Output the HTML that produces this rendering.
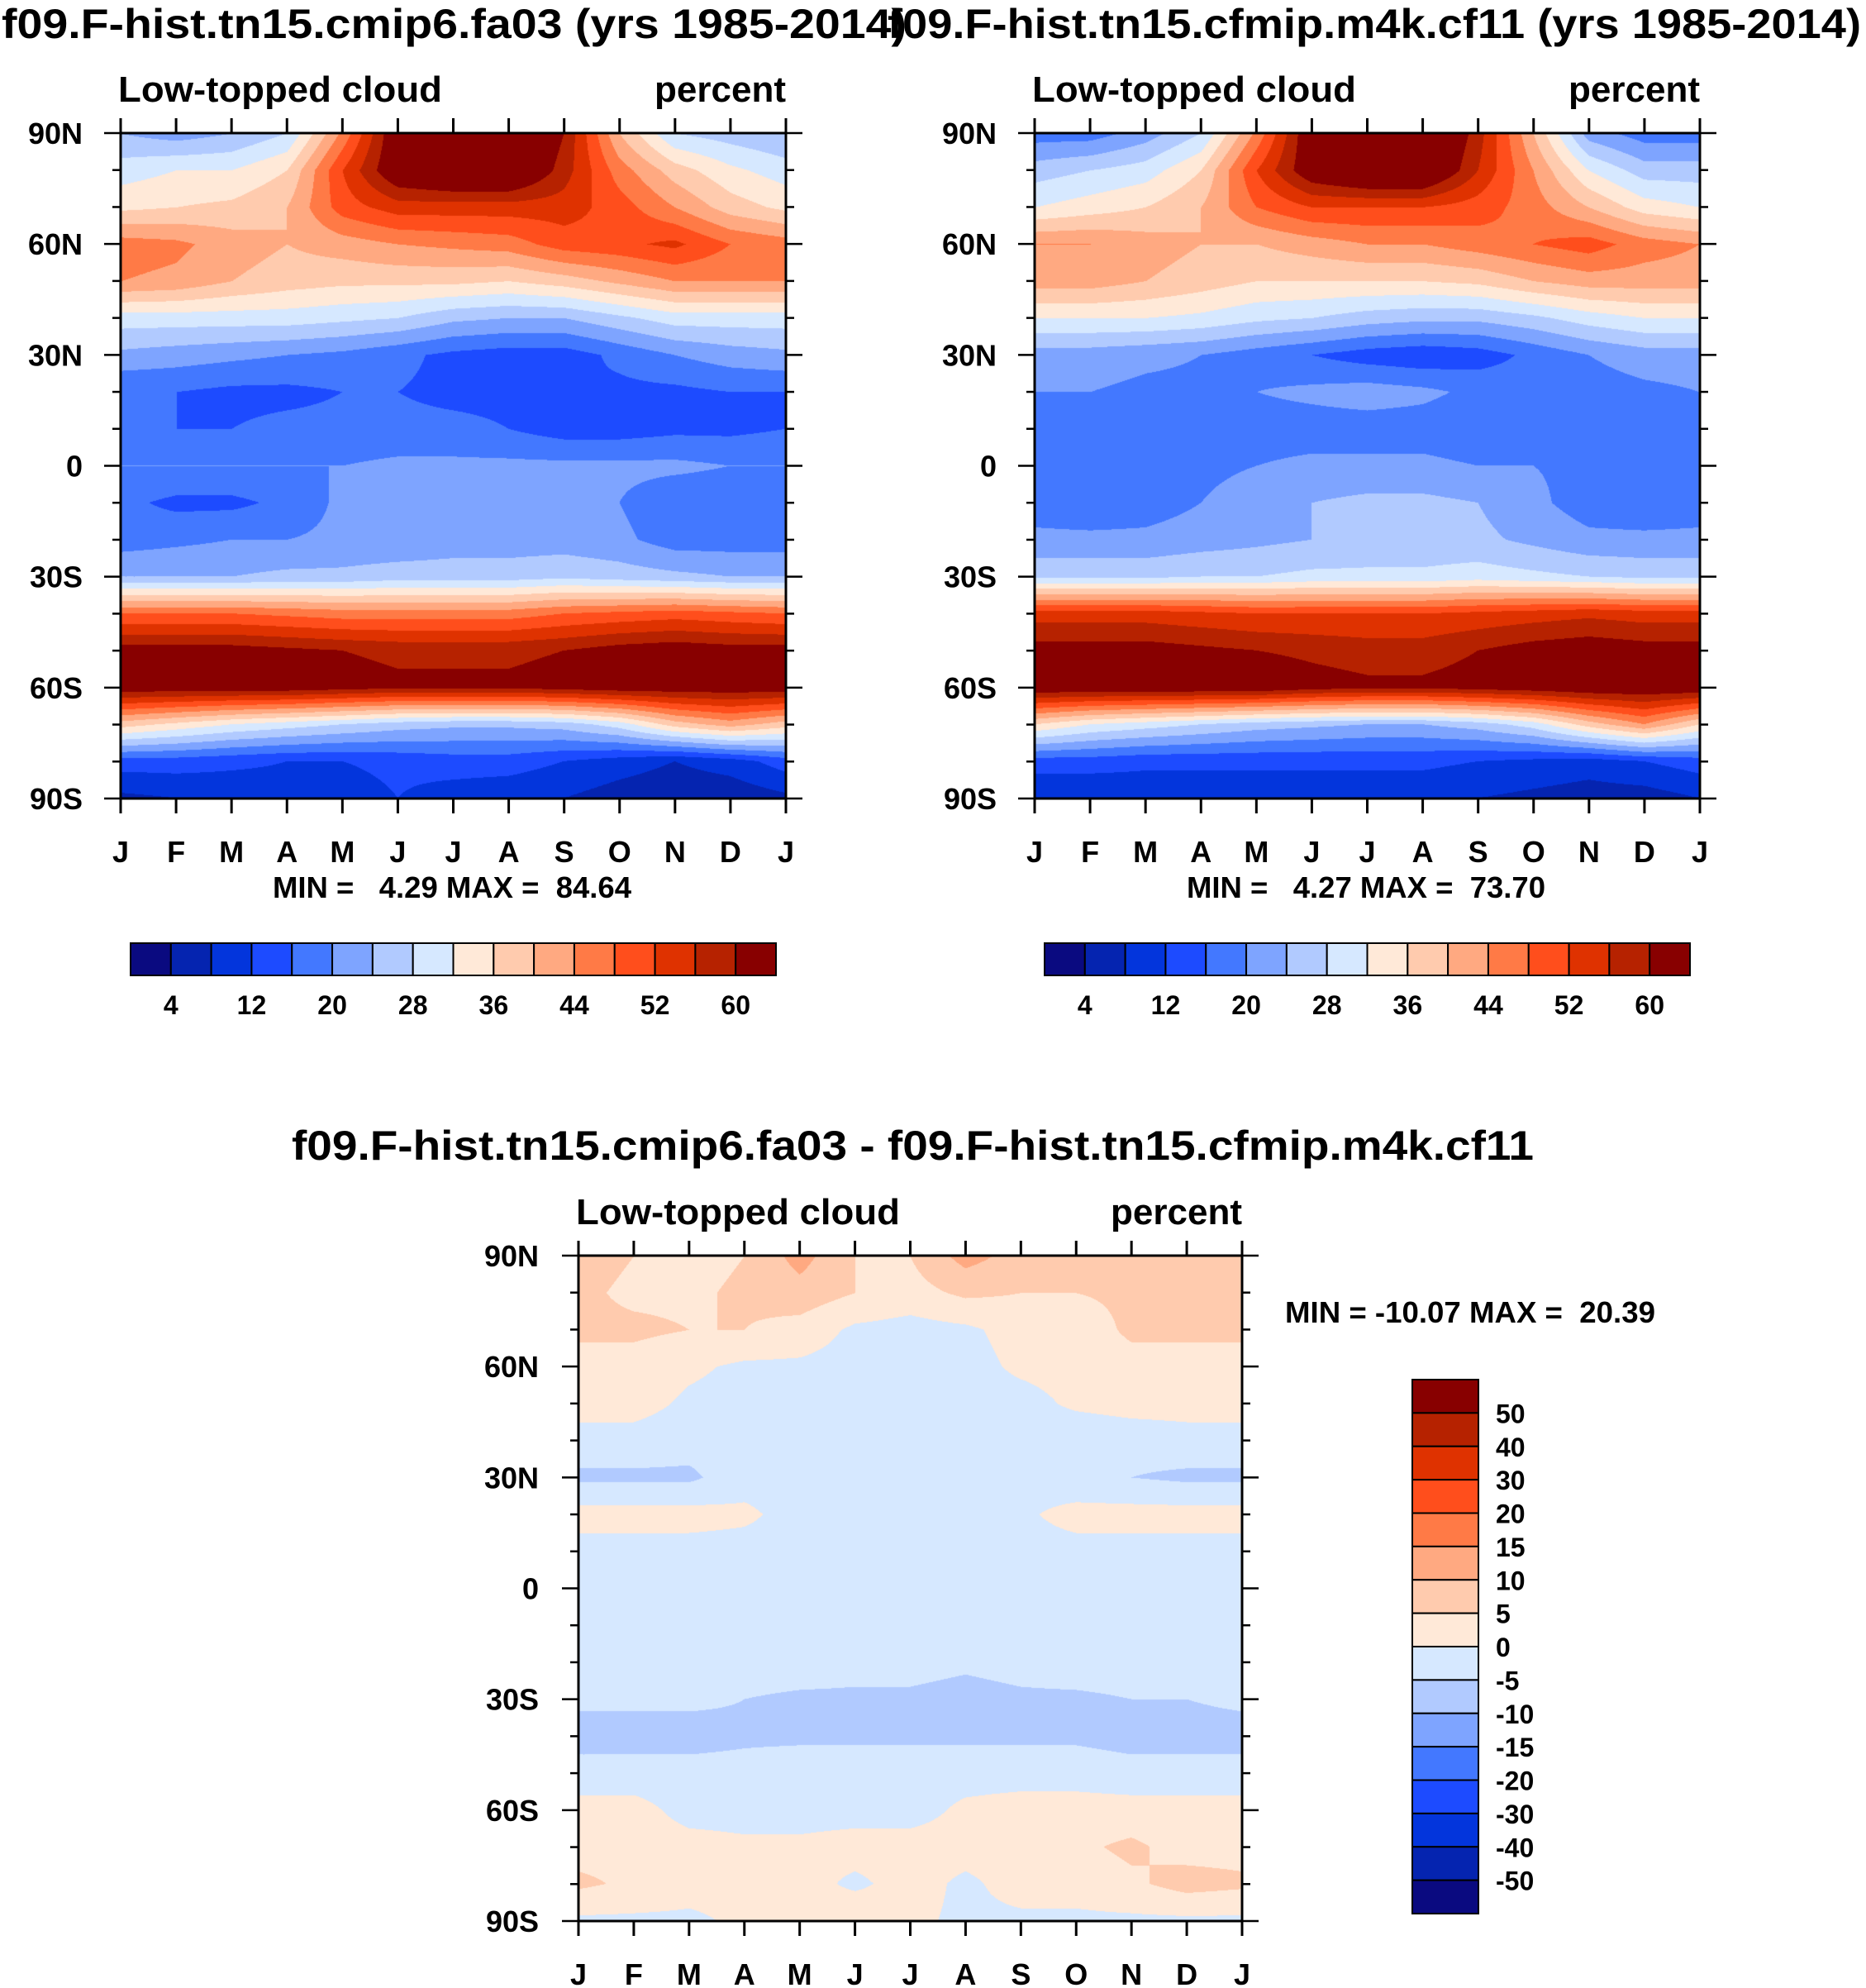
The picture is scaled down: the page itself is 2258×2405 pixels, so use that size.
<!DOCTYPE html>
<html><head><meta charset="utf-8">
<style>
html,body{margin:0;padding:0;background:#fff;}
#root{position:relative;width:2258px;height:2405px;overflow:hidden;background:#fff;}
canvas{position:absolute;}
svg{position:absolute;left:0;top:0;}
text{font-family:"Liberation Sans",sans-serif;font-weight:bold;fill:#000;}
.pre{white-space:pre;}
</style></head>
<body>
<div id="root">
<canvas id="c1" width="805" height="805" style="left:146px;top:161px"></canvas>
<canvas id="c2" width="805" height="805" style="left:1252px;top:161px"></canvas>
<canvas id="c3" width="803" height="805" style="left:700px;top:1519px"></canvas>
<svg id="svg" width="2258" height="2405"></svg>
</div>
<script>
// ---- data ----
const months = ["J","F","M","A","M","J","J","A","S","O","N","D","J"];
const latLabels = ["90N","60N","30N","0","30S","60S","90S"];
const lats = [90,80,70,60,50,40,30,20,10,0,-10,-20,-30,-40,-50,-60,-70,-80,-90];
const levelsAbs = [4,8,12,16,20,24,28,32,36,40,44,48,52,56,60];
const levelsDiff = [-50,-40,-30,-20,-15,-10,-5,0,5,10,15,20,30,40,50];
const cbLabelsAbs = ["4","12","20","28","36","44","52","60"];
const cbLabelsDiff = ["50","40","30","20","15","10","5","0","-5","-10","-15","-20","-30","-40","-50"];
const palette = ["#0a0a80","#0524b0","#0335dc","#1d4bff","#4378ff","#7ea4ff","#b1caff","#d6e8ff","#ffe9d8","#ffcbae","#ffa981","#ff7a46","#ff4e1c","#df3200","#b62200","#880000"];
const minMaxA = "MIN =   4.29 MAX =  84.64";
const minMaxB = "MIN =   4.27 MAX =  73.70";
const minMaxD = "MIN = -10.07 MAX =  20.39";
// rows: latitude (90N..90S), cols: Jan..Dec
const fieldA = [
[24,22,24,28,45,65,70,70,60,40,28,26],
[30,32,32,36,52,65,68,68,58,46,38,33],
[35,36,37,40,50,54,54,54,54,50,44,38],
[46,45,42,40,42,44,45,46,50,51,53,48],
[44,43,40,38,37,37,37,36,38,41,44,44],
[30,30,30,30,29,28,25,24,24,27,30,30],
[23,22,21,20,19,17,15,14,14,17,20,22],
[16,16,15,15,16,16,15,15,16,15,15,16],
[16,16,16,17,17,17,17,16,14,14,15,15],
[20,20,20,20,20,21,21,21,21,21,21,20],
[17,15,15,17,21,22,23,24,24,20,17,17],
[18,19,20,20,21,21,22,22,22,21,18,18],
[24,24,24,25,25,26,26,26,27,26,25,24],
[48,48,48,47,46,46,46,46,48,49,50,49],
[62,62,62,61,60,59,59,59,60,62,63,62],
[63,63,63,63,62,61,61,61,62,63,63,63],
[38,35,32,30,28,26,25,25,26,30,38,42],
[14,14,13,12,12,13,14,14,12,10,8,10],
[7,8,9,10,10,12,10,9,8,6,5,5]];
const fieldB = [
[18,18,22,28,45,65,70,70,58,40,22,18],
[26,28,30,36,52,64,68,68,56,44,32,26],
[32,34,36,40,48,52,52,52,50,46,40,34],
[44,44,42,40,40,42,44,44,46,48,50,46],
[42,42,40,38,36,36,36,36,37,40,42,42],
[32,32,32,31,29,28,26,25,25,27,30,32],
[22,22,21,20,18,16,14,13,14,17,20,22],
[20,20,19,19,20,21,22,21,19,18,18,19],
[17,17,17,17,18,18,18,18,17,17,17,17],
[19,18,18,19,20,21,21,21,20,20,19,19],
[18,17,18,20,22,24,25,25,24,21,18,17],
[21,21,21,22,23,24,25,25,25,23,21,21],
[27,27,27,28,28,29,29,29,30,29,28,27],
[54,54,54,53,52,52,52,52,53,54,55,54],
[62,62,62,61,60,59,58,58,60,62,63,62],
[64,64,64,64,64,62,61,61,62,63,64,64],
[36,32,30,28,26,25,24,24,26,30,38,44],
[14,14,13,13,13,13,13,13,12,11,10,12],
[8,8,9,9,9,9,9,9,8,7,6,6]];
const fieldD = [
[7,5,3,5,12,5,5,12,8,5,6,6],
[6,4,4,6,8,5,3,6,5,5,6,6],
[6,6,5,5,3,-1,-2,-1,2,2,6,6],
[3,3,1,-1,-1,-2,-2,-2,1,2,3,3],
[2,2,-1,-2,-2,-2,-2,-2,-2,1,2,2],
[-2,-2,-3,-2,-2,-2,-2,-2,-3,-4,-3,-2],
[-6,-6,-6,-2,-2,-2,-2,-1,-2,-4,-5,-6],
[2,2,2,1,-2,-3,-3,-3,-1,2,2,2],
[-2,-2,-2,-2,-2,-2,-2,-2,-2,-2,-2,-2],
[-2,-2,-2,-2,-2,-2,-2,-2,-2,-2,-2,-2],
[-2,-2,-2,-2,-2,-2,-2,-2,-2,-2,-2,-2],
[-2,-2,-2,-2,-2,-3,-3,-4,-3,-2,-2,-2],
[-4,-4,-4,-5,-6,-6,-6,-7,-6,-6,-5,-5],
[-7,-7,-7,-6,-6,-6,-6,-6,-6,-6,-7,-7],
[-3,-3,-3,-3,-2,-2,-2,-2,-2,-2,-3,-3],
[2,2,-2,-2,-2,-2,-2,1,2,2,2,2],
[3,3,2,1,1,2,2,2,2,4,6,3],
[6,4,2,2,2,-1,2,-1,2,2,4,7],
[-1,-1,-1,1,2,4,1,-1,-1,-1,-1,-1]];

// ---- rendering ----
function hexRgb(h){return [parseInt(h.substr(1,2),16),parseInt(h.substr(3,2),16),parseInt(h.substr(5,2),16)];}
const pal = palette.map(hexRgb);
function classOf(v,lev){let i=0;while(i<lev.length&&v>=lev[i])i++;return i;}
function drawField(id,field,lev){
  const c=document.getElementById(id),ctx=c.getContext('2d');
  const W=c.width,H=c.height,img=ctx.createImageData(W,H);
  const nr=field.length;
  for(let y=0;y<H;y++){
    const fy=y/(H-1)*(nr-1),r0=Math.min(Math.floor(fy),nr-2),ty=fy-r0;
    for(let x=0;x<W;x++){
      const fx=x/(W-1)*12,c0=Math.min(Math.floor(fx),11),tx=fx-c0,c1=(c0+1)%12;
      const v=(field[r0][c0]*(1-tx)+field[r0][c1]*tx)*(1-ty)+(field[r0+1][c0]*(1-tx)+field[r0+1][c1]*tx)*ty;
      const col=pal[classOf(v,lev)],k=(y*W+x)*4;
      img.data[k]=col[0];img.data[k+1]=col[1];img.data[k+2]=col[2];img.data[k+3]=255;
    }
  }
  ctx.putImageData(img,0,0);
}
drawField('c1',fieldA,levelsAbs);
drawField('c2',fieldB,levelsAbs);
drawField('c3',fieldD,levelsDiff);

const svg=document.getElementById('svg');
const NS='http://www.w3.org/2000/svg';
function el(tag,attrs,txt){const e=document.createElementNS(NS,tag);for(const k in attrs)e.setAttribute(k,attrs[k]);if(txt!==undefined)e.textContent=txt;svg.appendChild(e);return e;}

function axes(x0,y0,w,h,prefix,ylabRight){
  const yScale=lat=>y0+(90-lat)/180*h;
  const xScale=i=>x0+i/12*w;
  let e=el('rect',{x:x0,y:y0,width:w,height:h,fill:'none',stroke:'#000','stroke-width':3});
  
  for(let i=0;i<=12;i++){
    const x=xScale(i);
    el('line',{x1:x,y1:y0,x2:x,y2:y0-18,stroke:'#000','stroke-width':3});
    el('line',{x1:x,y1:y0+h,x2:x,y2:y0+h+18,stroke:'#000','stroke-width':3});
    const t=el('text',{x:x,y:y0+h+77,'font-size':36,'text-anchor':'middle'},months[i]);
    
  }
  for(let lat=-90;lat<=90;lat+=10){
    const y=yScale(lat),major=lat%30===0,L=major?20:10;
    el('line',{x1:x0-L,y1:y,x2:x0,y2:y,stroke:'#000','stroke-width':2.5});
    el('line',{x1:x0+w,y1:y,x2:x0+w+L,y2:y,stroke:'#000','stroke-width':2.5});
  }
  latLabels.forEach((lb,i)=>{
    const t=el('text',{x:ylabRight,y:yScale(90-i*30)+13,'font-size':36,'text-anchor':'end'},lb);
    
  });
  let s=el('text',{x:x0-3,y:y0-38,'font-size':44,textLength:392,lengthAdjust:'spacingAndGlyphs'},'Low-topped cloud');
  
  s=el('text',{x:x0+w,y:y0-38,'font-size':44,'text-anchor':'end'},'percent');
  
}
axes(146,161,805,805,'left',100);
axes(1252,161,805,805,'right',1206);
axes(700,1519,803,805,'diff',652);

let t=el('text',{x:2,y:46,'font-size':50,textLength:1095,lengthAdjust:'spacingAndGlyphs'},'f09.F-hist.tn15.cmip6.fa03 (yrs 1985-2014)');

t=el('text',{x:1074,y:46,'font-size':50,textLength:1178,lengthAdjust:'spacingAndGlyphs'},'f09.F-hist.tn15.cfmip.m4k.cf11 (yrs 1985-2014)');

t=el('text',{x:353,y:1403,'font-size':50,textLength:1503,lengthAdjust:'spacingAndGlyphs'},'f09.F-hist.tn15.cmip6.fa03 - f09.F-hist.tn15.cfmip.m4k.cf11');

t=el('text',{x:330,y:1086,'font-size':36,textLength:434,lengthAdjust:'spacingAndGlyphs','class':'pre'},minMaxA);

t=el('text',{x:1436,y:1086,'font-size':36,textLength:434,lengthAdjust:'spacingAndGlyphs','class':'pre'},minMaxB);

t=el('text',{x:1555,y:1600,'font-size':36,textLength:448,lengthAdjust:'spacingAndGlyphs','class':'pre'},minMaxD);


// horizontal colorbars
function hbar(x0,prefix){
  const y0=1141,w=781,h=39,bw=w/16;
  for(let i=0;i<16;i++){
    const r=el('rect',{x:x0+i*bw,y:y0,width:bw,height:h,fill:palette[i],stroke:'#000','stroke-width':2});
    
  }
  cbLabelsAbs.forEach((lb,i)=>{
    const tt=el('text',{x:x0+(1+2*i)*bw,y:1227,'font-size':32,'text-anchor':'middle'},lb);
    
  });
}
hbar(158,'left');hbar(1264,'right');
// vertical colorbar
(function(){
  const x0=1709,y0=1669,w=80,h=646,bh=h/16;
  for(let i=0;i<16;i++){
    const r=el('rect',{x:x0,y:y0+i*bh,width:w,height:bh,fill:palette[15-i],stroke:'#000','stroke-width':2});
    
  }
  cbLabelsDiff.forEach((lb,i)=>{
    const tt=el('text',{x:1810,y:y0+(i+1)*bh+12,'font-size':32},lb);
    
  });
})();
</script>
</body></html>
